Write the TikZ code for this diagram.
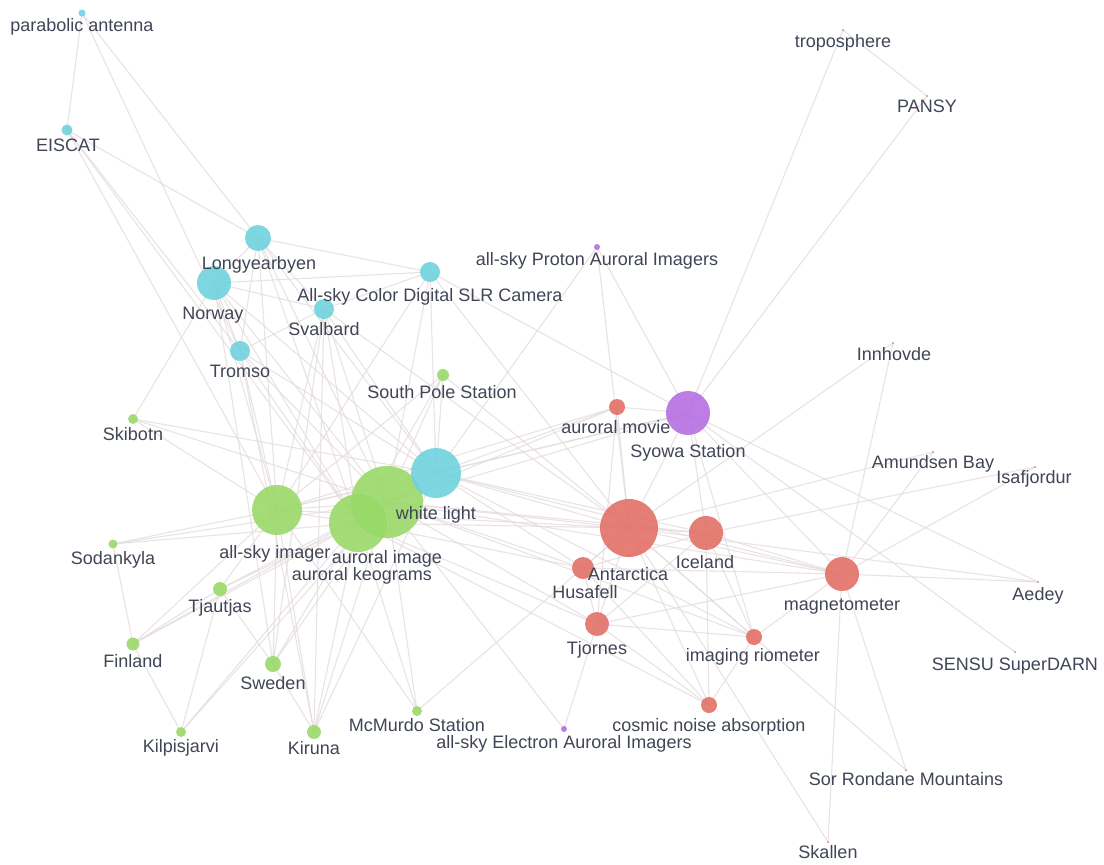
\documentclass[tikz,border=0pt]{standalone}
\usepackage{fontspec}
\setmainfont{Liberation Sans}
\definecolor{edgecol}{RGB}{228,220,221}
\definecolor{cyancol}{RGB}{108,210,221}
\definecolor{greencol}{RGB}{152,217,102}
\definecolor{redcol}{RGB}{226,110,100}
\definecolor{purplecol}{RGB}{180,108,226}
\definecolor{lblcol}{RGB}{64,70,86}
\begin{document}
\begin{tikzpicture}[x=1pt,y=-1pt,
  edge/.style={draw=edgecol, line width=1.1pt, opacity=0.8},
  vtx/.style={circle, inner sep=0pt, outer sep=0pt, draw=none, fill opacity=0.88},
  cy/.style={vtx, fill=cyancol, minimum size=#1},
  gr/.style={vtx, fill=greencol, minimum size=#1},
  rd/.style={vtx, fill=redcol, minimum size=#1},
  pu/.style={vtx, fill=purplecol, minimum size=#1},
  lbl/.style={text=lblcol, font=\fontsize{18}{20}\selectfont, inner sep=0pt, text height=12pt, text depth=1pt, anchor=center}]
\useasboundingbox (0,0) rectangle (1104,865);
\fill[white] (0,0) rectangle (1104,865);
% coordinates of nodes
\coordinate (pa) at (82,13);
\coordinate (eis) at (67,130);
\coordinate (lyb) at (258,238);
\coordinate (nor) at (214,283);
\coordinate (cam) at (430,272);
\coordinate (sva) at (324,309);
\coordinate (tro) at (240,351);
\coordinate (wl) at (436,473);
\coordinate (sps) at (443,375);
\coordinate (ski) at (133,419);
\coordinate (asi) at (277,510);
\coordinate (ai) at (387,502);
\coordinate (ak) at (358,523);
\coordinate (sod) at (113,544);
\coordinate (tja) at (220,589);
\coordinate (fin) at (133,644);
\coordinate (swe) at (273,664);
\coordinate (kil) at (181,732);
\coordinate (kir) at (314,732);
\coordinate (mcm) at (417,711);
\coordinate (pro) at (597,247);
\coordinate (syo) at (688,413);
\coordinate (ele) at (564,729);
\coordinate (mov) at (617,407);
\coordinate (ant) at (629,528);
\coordinate (ice) at (706,533);
\coordinate (hus) at (583,568);
\coordinate (tjo) at (597,624);
\coordinate (rio) at (754,637);
\coordinate (cna) at (709,705);
\coordinate (mag) at (842,574);
\coordinate (trp) at (843,30);
\coordinate (pan) at (927,96);
\coordinate (inn) at (893,343);
\coordinate (amu) at (933,452);
\coordinate (isa) at (1035,467);
\coordinate (aed) at (1038,582);
\coordinate (sen) at (1015,652);
\coordinate (sor) at (906,770);
\coordinate (ska) at (828,842);
% edges
\foreach \a/\b in {pa/eis,pa/lyb,pa/tro,
  eis/lyb,eis/tro,eis/ak,eis/asi,
  lyb/cam,lyb/nor,lyb/sva,lyb/asi,lyb/ai,lyb/wl,lyb/ak,lyb/tro,
  nor/cam,nor/sva,nor/tro,nor/ski,nor/asi,nor/ai,nor/ak,nor/wl,nor/swe,
  cam/sva,cam/wl,cam/ai,cam/ant,cam/syo,cam/asi,
  sva/tro,sva/asi,sva/ai,sva/ak,sva/wl,sva/swe,sva/kir,sva/ant,
  tro/asi,tro/ai,tro/ak,tro/kir,tro/wl,
  sps/wl,sps/ai,sps/ak,sps/asi,sps/ant,
  ski/asi,ski/ai,ski/wl,
  sod/asi,sod/ai,sod/fin,sod/ak,
  fin/tja,fin/asi,fin/ak,fin/kil,fin/ai,
  tja/ai,tja/asi,tja/kil,tja/swe,tja/ak,
  kil/ak,kil/ai,
  swe/ai,swe/asi,swe/kir,swe/ak,
  kir/asi,kir/ak,kir/ai,kir/wl,
  mcm/ak,mcm/ai,mcm/ant,mcm/asi,
  asi/ai,asi/ak,asi/wl,asi/ant,asi/syo,asi/mov,
  ai/ak,ai/wl,ai/ant,ai/syo,ai/mov,ai/ice,ai/hus,ai/tjo,ai/mag,ai/ele,ai/rio,
  ak/wl,ak/ant,ak/hus,ak/tjo,ak/cna,
  wl/ant,wl/mov,wl/syo,wl/ice,wl/mag,wl/hus,wl/pro,wl/rio,
  pro/syo,pro/ant,
  syo/trp,syo/pan,syo/mov,syo/ant,syo/ice,syo/mag,syo/sen,syo/aed,syo/rio,
  trp/pan,
  mov/ant,mov/tjo,
  ant/ice,ant/hus,ant/tjo,ant/mag,ant/rio,ant/cna,ant/inn,ant/amu,ant/ska,ant/sor,ant/aed,
  ice/hus,ice/tjo,ice/rio,ice/cna,ice/mag,ice/isa,
  hus/tjo,hus/mag,hus/cna,
  tjo/mag,tjo/rio,tjo/ele,tjo/cna,
  rio/cna,rio/mag,
  mag/inn,mag/amu,mag/isa,mag/aed,mag/ska,mag/sor}
  {\draw[edge] (\a) -- (\b);}
% vertices
\node[gr=58pt] (nak) at (ak) {};
\node[gr=72pt] (nai) at (ai) {};
\node[gr=50pt] (nasi) at (asi) {};
\node[gr=12pt] (nsps) at (sps) {};
\node[gr=10pt] (nski) at (ski) {};
\node[gr=9pt] (nsod) at (sod) {};
\node[gr=14pt] (ntja) at (tja) {};
\node[gr=13pt] (nfin) at (fin) {};
\node[gr=16pt] (nswe) at (swe) {};
\node[gr=10pt] (nkil) at (kil) {};
\node[gr=14pt] (nkir) at (kir) {};
\node[gr=10pt] (nmcm) at (mcm) {};
\node[cy=7pt] (npa) at (pa) {};
\node[cy=11pt] (neis) at (eis) {};
\node[cy=26pt] (nlyb) at (lyb) {};
\node[cy=34pt] (nnor) at (nor) {};
\node[cy=20pt] (ncam) at (cam) {};
\node[cy=20pt] (nsva) at (sva) {};
\node[cy=20pt] (ntro) at (tro) {};
\node[cy=50pt] (nwl) at (wl) {};
\node[pu=6pt] (npro) at (pro) {};
\node[pu=44pt] (nsyo) at (syo) {};
\node[pu=6pt] (nele) at (ele) {};
\node[rd=16pt] (nmov) at (mov) {};
\node[rd=58pt] (nant) at (ant) {};
\node[rd=34pt] (nice) at (ice) {};
\node[rd=22pt] (nhus) at (hus) {};
\node[rd=24pt] (ntjo) at (tjo) {};
\node[rd=16pt] (nrio) at (rio) {};
\node[rd=16pt] (ncna) at (cna) {};
\node[rd=34pt] (nmag) at (mag) {};
\node[rd=2pt] (ntrp) at (trp) {};
\node[rd=2pt] (npan) at (pan) {};
\node[rd=2pt] (ninn) at (inn) {};
\node[rd=2pt] (namu) at (amu) {};
\node[rd=2pt] (nisa) at (isa) {};
\node[rd=2pt] (naed) at (aed) {};
\node[rd=2pt] (nsen) at (sen) {};
\node[rd=2pt] (nsor) at (sor) {};
\node[rd=2pt] (nska) at (ska) {};
% labels
\node[lbl] (l1) at (82,26) {parabolic antenna};
\node[lbl] (l2) at (68,146) {EISCAT};
\node[lbl] (l3) at (259,264) {Longyearbyen};
\node[lbl] (l4) at (213,314) {Norway};
\node[lbl] (l5) at (430,296) {All-sky Color Digital SLR Camera};
\node[lbl] (l6) at (324,330) {Svalbard};
\node[lbl] (l7) at (240,372) {Tromso};
\node[lbl] (l8) at (436,514) {white light};
\node[lbl] (l9) at (442,393) {South Pole Station};
\node[lbl] (l10) at (133,435) {Skibotn};
\node[lbl] (l11) at (275,553) {all-sky imager};
\node[lbl] (l12) at (387,558) {auroral image};
\node[lbl] (l13) at (362,575) {auroral keograms};
\node[lbl] (l14) at (113,559) {Sodankyla};
\node[lbl] (l15) at (220,607) {Tjautjas};
\node[lbl] (l16) at (133,662) {Finland};
\node[lbl] (l17) at (273,684) {Sweden};
\node[lbl] (l18) at (181,747) {Kilpisjarvi};
\node[lbl] (l19) at (314,749) {Kiruna};
\node[lbl] (l20) at (417,726) {McMurdo Station};
\node[lbl] (l21) at (597,260) {all-sky Proton Auroral Imagers};
\node[lbl] (l22) at (688,452) {Syowa Station};
\node[lbl] (l23) at (564,743) {all-sky Electron Auroral Imagers};
\node[lbl] (l24) at (616,428) {auroral movie};
\node[lbl] (l25) at (628,575) {Antarctica};
\node[lbl] (l26) at (705,563) {Iceland};
\node[lbl] (l27) at (585,593) {Husafell};
\node[lbl] (l28) at (597,649) {Tjornes};
\node[lbl] (l29) at (753,656) {imaging riometer};
\node[lbl] (l30) at (709,726) {cosmic noise absorption};
\node[lbl] (l31) at (842,605) {magnetometer};
\node[lbl] (l32) at (843,42) {troposphere};
\node[lbl] (l33) at (927,107) {PANSY};
\node[lbl] (l34) at (894,355) {Innhovde};
\node[lbl] (l35) at (933,463) {Amundsen Bay};
\node[lbl] (l36) at (1034,478) {Isafjordur};
\node[lbl] (l37) at (1038,595) {Aedey};
\node[lbl] (l38) at (1015,665) {SENSU SuperDARN};
\node[lbl] (l39) at (906,780) {Sor Rondane Mountains};
\node[lbl] (l40) at (828,853) {Skallen};
\end{tikzpicture}
\end{document}
